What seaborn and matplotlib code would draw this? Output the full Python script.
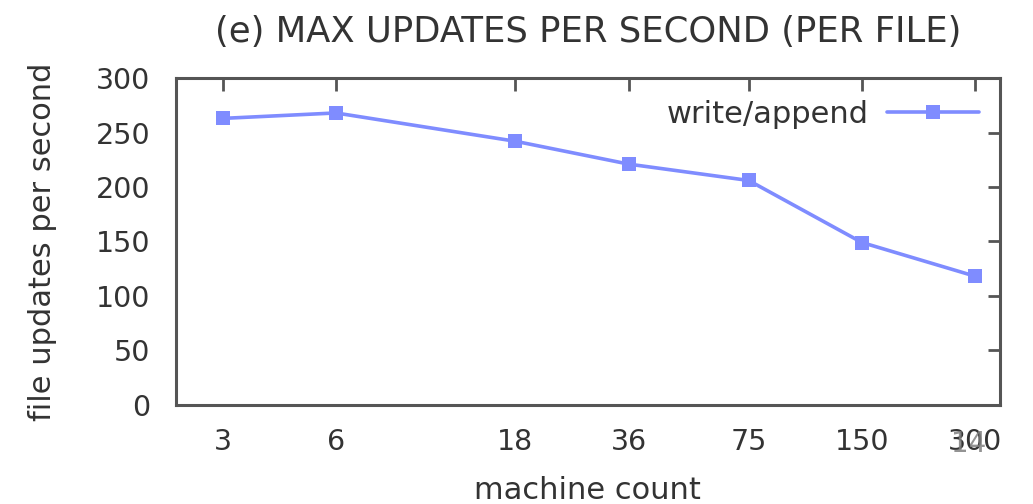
import matplotlib
matplotlib.use("Agg")
import matplotlib.pyplot as plt
import matplotlib.ticker as mticker
import seaborn as sns
import pandas as pd

machines = [3, 6, 18, 36, 75, 150, 300]
updates = [263, 268, 242, 221, 206, 149, 118]
series_name = "write/append"
y_ticks = [0, 50, 100, 150, 200, 250, 300]

sns.set_theme(style="white")
plt.rcParams["font.family"] = ["DejaVu Sans"]

df = pd.DataFrame({"machine count": machines, "updates": updates, "series": series_name})

fig = plt.figure(figsize=(10.33, 5.04), dpi=100)
ax = fig.add_axes([0.170, 0.197, 0.798, 0.648])

sns.lineplot(data=df, x="machine count", y="updates", hue="series",
             palette=["#7f8cff"], marker="s", markersize=10,
             markeredgewidth=0, linewidth=2.6, ax=ax)

ax.set_xscale("log")
ax.set_xlim(2.25, 349)
ax.set_ylim(0, 300)
ax.xaxis.set_major_locator(mticker.FixedLocator(machines))
ax.xaxis.set_minor_locator(mticker.NullLocator())
ax.set_xticklabels([str(m) for m in machines])
ax.set_yticks(y_ticks)

ax.tick_params(axis="both", which="major", direction="in", length=9, width=2,
               color="#555555", labelsize=20.5, labelcolor="#333333",
               top=True, right=True)
ax.tick_params(axis="x", pad=17)
ax.tick_params(axis="y", pad=18)
for s in ax.spines.values():
    s.set_color("#555555")
    s.set_linewidth(2.2)

# overprinted glyphs under the last x label
ax.annotate("14", xy=(300, 0), xycoords="data", xytext=(-5, -28),
            textcoords="offset points", ha="center", va="center",
            fontsize=20, color="#808080", alpha=0.85)

ax.set_xlabel("machine count", fontsize=22, color="#333333", labelpad=14)
ax.set_ylabel("file updates per second", fontsize=22, color="#333333", labelpad=28)
ax.set_title("(e) MAX UPDATES PER SECOND (PER FILE)", fontsize=25.5,
             color="#333333", pad=26)

leg = ax.legend(loc="upper right", frameon=False, markerfirst=False,
                fontsize=22, handlelength=3.0, borderaxespad=0.3,
                handletextpad=0.6)
for t in leg.get_texts():
    t.set_color("#333333")

fig.savefig("out.png", dpi=100)
